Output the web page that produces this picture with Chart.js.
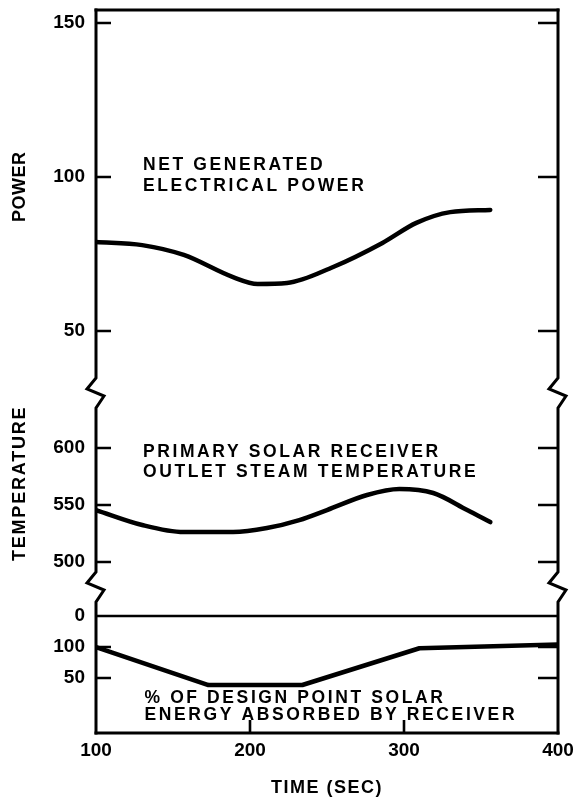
<!DOCTYPE html>
<html>
<head>
<meta charset="utf-8">
<script src="https://cdn.jsdelivr.net/npm/chart.js@4.4.1/dist/chart.umd.min.js"></script>
<style>
  html, body { margin: 0; padding: 0; background: #fff; }
  #wrap { width: 583px; height: 797px; }
</style>
</head>
<body>
<div id="wrap"><canvas id="c" width="583" height="797"></canvas></div>
<script>
// Shared time axis (seconds)
const timeTicks = [100, 200, 300, 400];

// Net generated electrical power
const powerTime   = [100, 130, 157, 189, 205, 224, 254, 286, 308, 330, 356];
const powerValues = [78.9, 77.9, 74.7, 67.5, 65.3, 65.6, 70.8, 78.6, 85.1, 88.6, 89.3];
const powerTicks  = [50, 100, 150];

// Primary solar receiver outlet steam temperature
const tempTime   = [100, 130, 157, 189, 211, 232, 250, 276, 297, 319, 341, 356];
const tempValues = [545.6, 532.5, 526.3, 526.3, 529.8, 536.8, 545.6, 558.8, 564, 560.5, 545.6, 535];
const tempTicks  = [500, 550, 600];

// % of design point solar energy absorbed by receiver
const solarTime   = [100, 173, 234, 310, 400];
const solarValues = [100, 38.7, 38.7, 98, 104];
const solarTickValues = [150, 100, 50];
const solarTickLabels = ['0', '100', '50'];

const FONT = '"Liberation Sans", Arial, Helvetica, sans-serif';
const INK = '#000';
const TICK_FONT = { family: FONT, size: 19, weight: 'bold' };

const toPoints = (xs, ys) => xs.map((x, i) => ({ x, y: ys[i] }));

function yAxis(opts) {
  return Object.assign({
    type: 'linear',
    position: 'left',
    stack: 'panels',
    grid: { display: false, drawTicks: false },
    border: { display: false },
    ticks: { font: TICK_FONT, color: INK, padding: 11 },
    afterFit: s => { s.width = 96; s.paddingTop = 0; s.paddingBottom = 0; }
  }, opts);
}

// Axes frame with break marks, inward ticks and the baseline rule
const framePlugin = {
  id: 'frame',
  beforeDatasetsDraw(chart) {
    const { ctx, chartArea: a, scales } = chart;
    const breaks = [scales.yP.bottom, scales.yT.bottom];
    const zig = [[0, -15], [-9, -4], [8, 3], [0, 15]];
    ctx.save();
    ctx.strokeStyle = INK;
    ctx.lineWidth = 3;
    ctx.lineJoin = 'miter';

    const side = x => {
      ctx.beginPath();
      ctx.moveTo(x, a.top - 1.5);
      for (const b of breaks) for (const [dx, dy] of zig) ctx.lineTo(x + dx, b + dy);
      ctx.lineTo(x, a.bottom + 1.5);
      ctx.stroke();
    };
    side(a.left);
    side(a.right);

    ctx.beginPath();
    ctx.moveTo(a.left - 1.5, a.top); ctx.lineTo(a.right + 1.5, a.top);
    ctx.moveTo(a.left - 1.5, a.bottom); ctx.lineTo(a.right + 1.5, a.bottom);
    ctx.stroke();

    ctx.lineWidth = 2.6;
    ctx.beginPath();
    for (const id of ['yP', 'yT', 'yS']) {
      const sc = scales[id];
      for (const t of sc.ticks) {
        const y = sc.getPixelForValue(t.value);
        if (id === 'yS' && t.value === solarTickValues[0]) {
          ctx.moveTo(a.left, y); ctx.lineTo(a.right, y);
        } else {
          ctx.moveTo(a.left, y); ctx.lineTo(a.left + 15, y);
          ctx.moveTo(a.right - 20, y); ctx.lineTo(a.right, y);
        }
      }
    }
    for (const v of timeTicks.slice(1, -1)) {
      const x = scales.x.getPixelForValue(v);
      ctx.moveTo(x, a.bottom); ctx.lineTo(x, a.bottom - 13);
    }
    ctx.stroke();
    ctx.restore();
  }
};

// Curve captions and axis titles
const notes = [
  { axis: 'yP', x: 130.5, y: 102.3, gap: 21, lines: ['NET GENERATED', 'ELECTRICAL POWER'] },
  { axis: 'yT', x: 130.5, y: 592.1, gap: 20, lines: ['PRIMARY SOLAR RECEIVER', 'OUTLET STEAM TEMPERATURE'] },
  { axis: 'yS', x: 131.5, y: 9.7,   gap: 17, lines: ['% OF DESIGN POINT SOLAR', 'ENERGY ABSORBED BY RECEIVER'] }
];

const textPlugin = {
  id: 'texts',
  afterDraw(chart) {
    const { ctx, scales, chartArea: a } = chart;
    ctx.save();
    ctx.fillStyle = INK;
    ctx.font = `bold 17.5px ${FONT}`;
    ctx.textAlign = 'left';
    ctx.textBaseline = 'alphabetic';
    ctx.letterSpacing = '2.6px';
    for (const n of notes) {
      const x = scales.x.getPixelForValue(n.x);
      const y0 = scales[n.axis].getPixelForValue(n.y);
      n.lines.forEach((line, i) => ctx.fillText(line, x, y0 + i * n.gap));
    }

    // vertical axis titles
    ctx.font = `bold 18px ${FONT}`;
    const vTitle = (text, cy, spacing) => {
      ctx.save();
      ctx.letterSpacing = spacing;
      ctx.translate(20, cy);
      ctx.rotate(-Math.PI / 2);
      ctx.textAlign = 'center';
      ctx.textBaseline = 'middle';
      ctx.fillText(text, 0, 0);
      ctx.restore();
    };
    vTitle('POWER', scales.yP.getPixelForValue(96.8), '0.5px');
    vTitle('TEMPERATURE', scales.yT.getPixelForValue(569), '1.8px');

    // time axis title
    ctx.letterSpacing = '1.5px';
    ctx.textAlign = 'center';
    ctx.textBaseline = 'middle';
    ctx.fillText('TIME (SEC)', (a.left + a.right) / 2, 788);
    ctx.restore();
  }
};

const lineStyle = {
  borderColor: INK,
  borderWidth: 4.5,
  pointRadius: 0,
  fill: false,
  borderCapStyle: 'round',
  borderJoinStyle: 'round'
};

new Chart(document.getElementById('c'), {
  type: 'line',
  data: {
    datasets: [
      Object.assign({ label: 'Power', yAxisID: 'yP', data: toPoints(powerTime, powerValues), cubicInterpolationMode: 'monotone' }, lineStyle),
      Object.assign({ label: 'Temperature', yAxisID: 'yT', data: toPoints(tempTime, tempValues), cubicInterpolationMode: 'monotone' }, lineStyle),
      Object.assign({ label: 'Solar energy', yAxisID: 'yS', data: toPoints(solarTime, solarValues), tension: 0 }, lineStyle)
    ]
  },
  options: {
    responsive: false,
    animation: false,
    events: [],
    layout: { padding: { left: 0, right: 25, top: 10, bottom: 0 } },
    plugins: { legend: { display: false }, tooltip: { enabled: false } },
    scales: {
      x: {
        type: 'linear',
        position: 'bottom',
        min: timeTicks[0],
        max: timeTicks[timeTicks.length - 1],
        afterBuildTicks: s => { s.ticks = timeTicks.map(v => ({ value: v })); },
        grid: { display: false, drawTicks: false },
        border: { display: false },
        ticks: { font: TICK_FONT, color: INK, padding: 6, maxRotation: 0, autoSkip: false },
        afterFit: s => { s.height = 64; s.paddingLeft = 0; s.paddingRight = 0; }
      },
      yP: yAxis({
        weight: 3, stackWeight: 383, min: 29.9, max: 154.2,
        afterBuildTicks: s => { s.ticks = powerTicks.map(v => ({ value: v })); }
      }),
      yT: yAxis({
        weight: 2, stackWeight: 194, min: 478.1, max: 648.2,
        afterBuildTicks: s => { s.ticks = tempTicks.map(v => ({ value: v })); }
      }),
      yS: yAxis({
        weight: 1, stackWeight: 146, min: -38.7, max: 196.8,
        afterBuildTicks: s => { s.ticks = solarTickValues.map(v => ({ value: v })); },
        ticks: {
          font: TICK_FONT,
          color: INK,
          padding: 11,
          callback: v => solarTickLabels[solarTickValues.indexOf(v)]
        }
      })
    }
  },
  plugins: [framePlugin, textPlugin]
});
</script>
</body>
</html>
